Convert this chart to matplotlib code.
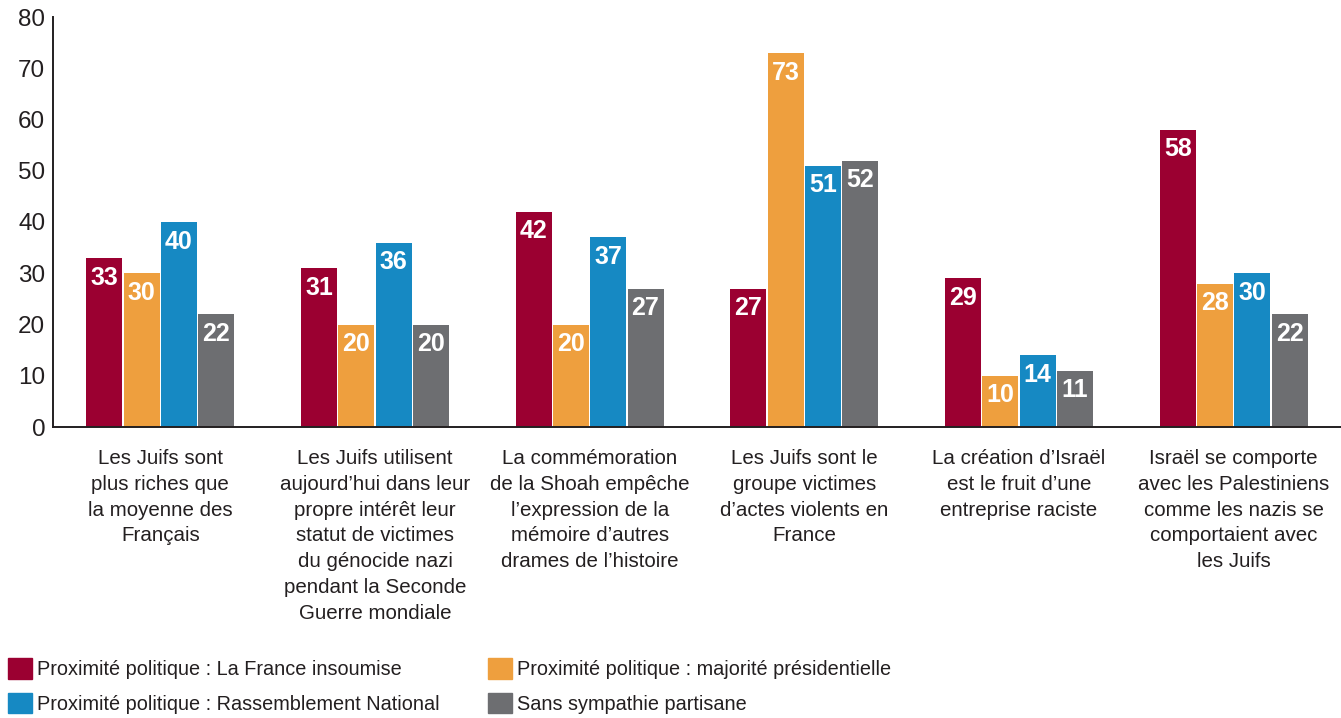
import matplotlib.pyplot as plt
import numpy as np
from matplotlib.patches import Patch

categories = [
    "Les Juifs sont\nplus riches que\nla moyenne des\nFrançais",
    "Les Juifs utilisent\naujourd'hui dans leur\npropre intérêt leur\nstatut de victimes\ndu génocide nazi\npendant la Seconde\nGuerre mondiale",
    "La commémoration\nde la Shoah empêche\nl'expression de la\nmémoire d'autres\ndrames de l'histoire",
    "Les Juifs sont le\ngroupe victimes\nd'actes violents en\nFrance",
    "La création d'Israël\nest le fruit d'une\nentreprise raciste",
    "Israël se comporte\navec les Palestiniens\ncomme les nazis se\ncomportaient avec\nles Juifs",
]
categories = [c.replace("'", "\u2019") for c in categories]

series_names = [
    "Proximité politique : La France insoumise",
    "Proximité politique : majorité présidentielle",
    "Proximité politique : Rassemblement National",
    "Sans sympathie partisane",
]
lfi = [33, 31, 42, 27, 29, 58]
majorite = [30, 20, 20, 73, 10, 28]
rn = [40, 36, 37, 51, 14, 30]
sans = [22, 20, 27, 52, 11, 22]
colors = ["#9B0031", "#EE9F3E", "#1689C3", "#6D6E71"]
text_col = "#231F20"

plt.rcParams["font.family"] = ["Liberation Sans", "DejaVu Sans"]

W, H = 1341, 718
fig = plt.figure(figsize=(W / 100, H / 100), dpi=100)
ax = fig.add_axes([53 / W, 1 - 427 / H, 1 - 53 / W, (427 - 17) / H])

x = np.arange(len(categories))
width = 36 / 215
step = 37.3 / 215
for i, (vals, col) in enumerate(zip([lfi, majorite, rn, sans], colors)):
    pos = x + (i - 1.5) * step
    ax.bar(pos, vals, width=width, color=col)
    for p, v in zip(pos, vals):
        ax.annotate(str(v), (p, v), xytext=(0, -5.5), textcoords="offset points",
                    ha="center", va="top", color="white", fontsize=18,
                    fontweight="bold")

ax.set_xlim(-0.5, len(categories) - 0.5)
ax.set_ylim(0, 80)
ax.set_yticks(range(0, 81, 10))
ax.tick_params(axis="y", length=0, labelsize=17.5, pad=5.5, colors=text_col)
ax.set_xticks(x)
ax.set_xticklabels(categories, fontsize=14.8, color=text_col, linespacing=1.45)
ax.tick_params(axis="x", length=0, pad=16)
for s in ["top", "right"]:
    ax.spines[s].set_visible(False)
for s in ["left", "bottom"]:
    ax.spines[s].set_color(text_col)
    ax.spines[s].set_linewidth(1.4)

handles = [Patch(color=c) for c in colors]
leg_kw = dict(loc="lower left", frameon=False, fontsize=14.3, handlelength=1.2,
              handleheight=1.2, handletextpad=0.25, labelspacing=0.7,
              borderpad=0, borderaxespad=0)
leg1 = fig.legend([handles[0], handles[2]], [series_names[0], series_names[2]],
                  bbox_to_anchor=(8 / W, 4 / H), **leg_kw)
leg2 = fig.legend([handles[1], handles[3]], [series_names[1], series_names[3]],
                  bbox_to_anchor=(488 / W, 4 / H), **leg_kw)
for leg in (leg1, leg2):
    for t in leg.get_texts():
        t.set_color(text_col)

fig.savefig("out.png", dpi=100)
